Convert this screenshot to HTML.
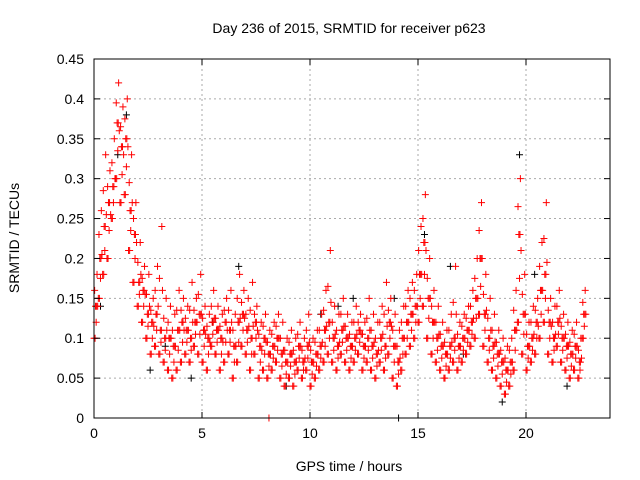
<!DOCTYPE html>
<html><head><meta charset="utf-8"><style>
body{margin:0;background:#fff}
svg{display:block;font-family:"Liberation Sans",sans-serif}
</style></head><body>
<svg id="chart" width="640" height="480" viewBox="0 0 640 480">
<rect width="640" height="480" fill="#fff"/>
<text x="349" y="33" font-size="14" text-anchor="middle">Day 236 of 2015, SRMTID for receiver p623</text>
<text x="349" y="471" font-size="14" text-anchor="middle">GPS time / hours</text>
<text transform="translate(19,238) rotate(-90)" font-size="14" text-anchor="middle">SRMTID / TECUs</text>
<g id="grid"></g>
<g id="marks"></g>
<rect x="94" y="59" width="516" height="359" fill="none" stroke="#000" stroke-width="1"/>
<g id="ticks"></g>
</svg>
<script>
const xTicks=[0,5,10,15,20];
const yTicks=[0,0.05,0.1,0.15,0.2,0.25,0.3,0.35,0.4,0.45];
const yTickLabels=["0","0.05","0.1","0.15","0.2","0.25","0.3","0.35","0.4","0.45"];
const times=[0,0.2,0.4,0.6,0.8,1.0,1.2,1.4,1.6,1.8,2.0,2.2,2.4,2.6,2.8,3.0,3.2,3.4,3.6,3.8,4.0,4.2,4.4,4.6,4.8,5.0,5.2,5.4,5.6,5.8,6.0,6.2,6.4,6.6,6.8,7.0,7.2,7.4,7.6,7.8,8.0,8.2,8.4,8.6,8.8,9.0,9.2,9.4,9.6,9.8,10.0,10.2,10.4,10.6,10.8,11.0,11.2,11.4,11.6,11.8,12.0,12.2,12.4,12.6,12.8,13.0,13.2,13.4,13.6,13.8,14.0,14.2,14.4,14.6,14.8,15.0,15.2,15.4,15.6,15.8,16.0,16.2,16.4,16.6,16.8,17.0,17.2,17.4,17.6,17.8,18.0,18.2,18.4,18.6,18.8,19.0,19.2,19.4,19.6,19.8,20.0,20.2,20.4,20.6,20.8,21.0,21.2,21.4,21.6,21.8,22.0,22.2,22.4,22.6];
const lowVals=[.10,.15,.18,.20,.25,.30,.27,.28,.21,.17,.14,.12,.10,.08,.09,.08,.07,.06,.05,.06,.07,.08,.07,.09,.08,.07,.06,.09,.08,.06,.07,.08,.05,.07,.09,.08,.06,.08,.05,.06,.05,.06,.07,.05,.04,.05,.04,.06,.05,.06,.04,.05,.06,.07,.08,.07,.06,.08,.07,.06,.07,.08,.06,.07,.06,.05,.07,.06,.08,.05,.04,.06,.08,.09,.10,.12,.14,.10,.08,.07,.06,.05,.06,.07,.06,.07,.08,.09,.10,.13,.09,.07,.06,.05,.04,.03,.04,.06,.12,.08,.06,.07,.08,.10,.12,.08,.07,.09,.07,.06,.05,.06,.05,.10];
const midVals=[.14,.20,.24,.27,.29,.37,.34,.35,.26,.23,.17,.16,.13,.12,.13,.11,.10,.10,.09,.11,.12,.11,.10,.12,.13,.11,.10,.12,.11,.10,.12,.11,.09,.12,.13,.11,.10,.12,.09,.10,.08,.09,.10,.08,.07,.08,.07,.09,.07,.09,.07,.08,.09,.11,.12,.10,.09,.11,.10,.09,.10,.11,.09,.10,.09,.08,.10,.09,.12,.09,.07,.10,.12,.13,.14,.18,.22,.15,.12,.10,.09,.08,.09,.10,.09,.10,.11,.12,.15,.20,.13,.10,.09,.08,.07,.06,.07,.11,.23,.13,.09,.10,.12,.16,.18,.12,.10,.12,.10,.09,.08,.09,.07,.13];
const highVals=[.18,.26,.33,.31,.35,.42,.39,.40,.33,.27,.22,.19,.18,.15,.19,.24,.15,.14,.13,.16,.15,.14,.17,.15,.18,.14,.13,.16,.14,.13,.15,.16,.13,.18,.16,.15,.17,.14,.12,.13,.11,.12,.13,.12,.10,.11,.10,.12,.10,.13,.10,.11,.13,.16,.21,.14,.13,.15,.13,.12,.14,.13,.12,.15,.13,.12,.14,.17,.15,.13,.11,.14,.16,.17,.18,.24,.28,.20,.16,.14,.12,.11,.13,.19,.12,.13,.14,.16,.20,.27,.18,.15,.13,.11,.10,.09,.10,.16,.30,.18,.12,.14,.15,.22,.27,.15,.14,.16,.13,.12,.11,.12,.10,.16];
const blackT=[0.3,1.1,1.5,2.6,4.5,6.7,8.9,10.5,12.0,13.9,14.1,15.3,16.5,18.9,19.7,20.4,21.9,3.3,5.5,9.7,11.3,17.1];
const blackV=[.14,.33,.38,.06,.05,.19,.04,.13,.15,.15,.0,.23,.19,.02,.33,.18,.04,.09,.12,.06,.14,.08];
const extraT=[8.1];
const extraV=[0];

const X=t=>94+t*21.6;
const Y=v=>418-v*(359/0.45);
const NS="http://www.w3.org/2000/svg";
const grid=document.getElementById('grid'),ticks=document.getElementById('ticks'),marks=document.getElementById('marks');
function line(p,x1,y1,x2,y2,st,dash,name){const l=document.createElementNS(NS,'line');l.setAttribute('x1',x1);l.setAttribute('y1',y1);l.setAttribute('x2',x2);l.setAttribute('y2',y2);l.setAttribute('stroke',st);if(dash)l.setAttribute('stroke-dasharray',dash);


p.appendChild(l);}
function text(x,y,s,anchor,name){const t=document.createElementNS(NS,'text');t.setAttribute('x',x);t.setAttribute('y',y);t.setAttribute('font-size','14');t.setAttribute('text-anchor',anchor);t.textContent=s;


ticks.appendChild(t);}
yTicks.forEach((v,i)=>{const y=Y(v);
 if(i>0&&i<yTicks.length-1)line(grid,94,y,610,y,'#aaa','2,3','y-grid-line');
 line(ticks,94,y,100,y,'#000',null,'y-tick');line(ticks,604,y,610,y,'#000',null,'y-tick');
 text(84,y+5,yTickLabels[i],'end','y-tick-label');});
xTicks.forEach(t=>{const x=X(t);
 if(t>0)line(grid,x,59,x,418,'#aaa','2,3','x-grid-line');
 line(ticks,x,418,x,412,'#000',null,'x-tick');line(ticks,x,59,x,65,'#000',null,'x-tick');
 text(x,438,String(t),'middle','x-tick-label');});
function plus(t,v,col,name){const x=X(t),y=Y(v);const p=document.createElementNS(NS,'path');
 p.setAttribute('d',`M${x-3.5},${y}h7M${x},${y-3.5}v7`);p.setAttribute('stroke',col);p.setAttribute('stroke-width','1');p.setAttribute('fill','none');
 
 
 marks.appendChild(p);}
blackT.forEach((t,i)=>plus(t,blackV[i],'#000','black-point'));
times.forEach((t,i)=>{
 plus(t,lowVals[i],'#f00','red-point');
 plus(t+0.07,midVals[i],'#f00','red-point');
 plus(t+0.14,highVals[i],'#f00','red-point');
 plus(t+0.1,(lowVals[i]+midVals[i])/2,'#f00','red-point');
 plus(t+0.03,(midVals[i]+highVals[i])/2,'#f00','red-point');
 plus(t+0.17,(lowVals[i]+highVals[i])/2,'#f00','red-point');
 plus(t+0.12,midVals[i],'#f00','red-point');
 plus(t+0.05,lowVals[i],'#f00','red-point');
});
extraT.forEach((t,i)=>plus(t,extraV[i],'#f00','red-point'));
</script>
</body></html>
